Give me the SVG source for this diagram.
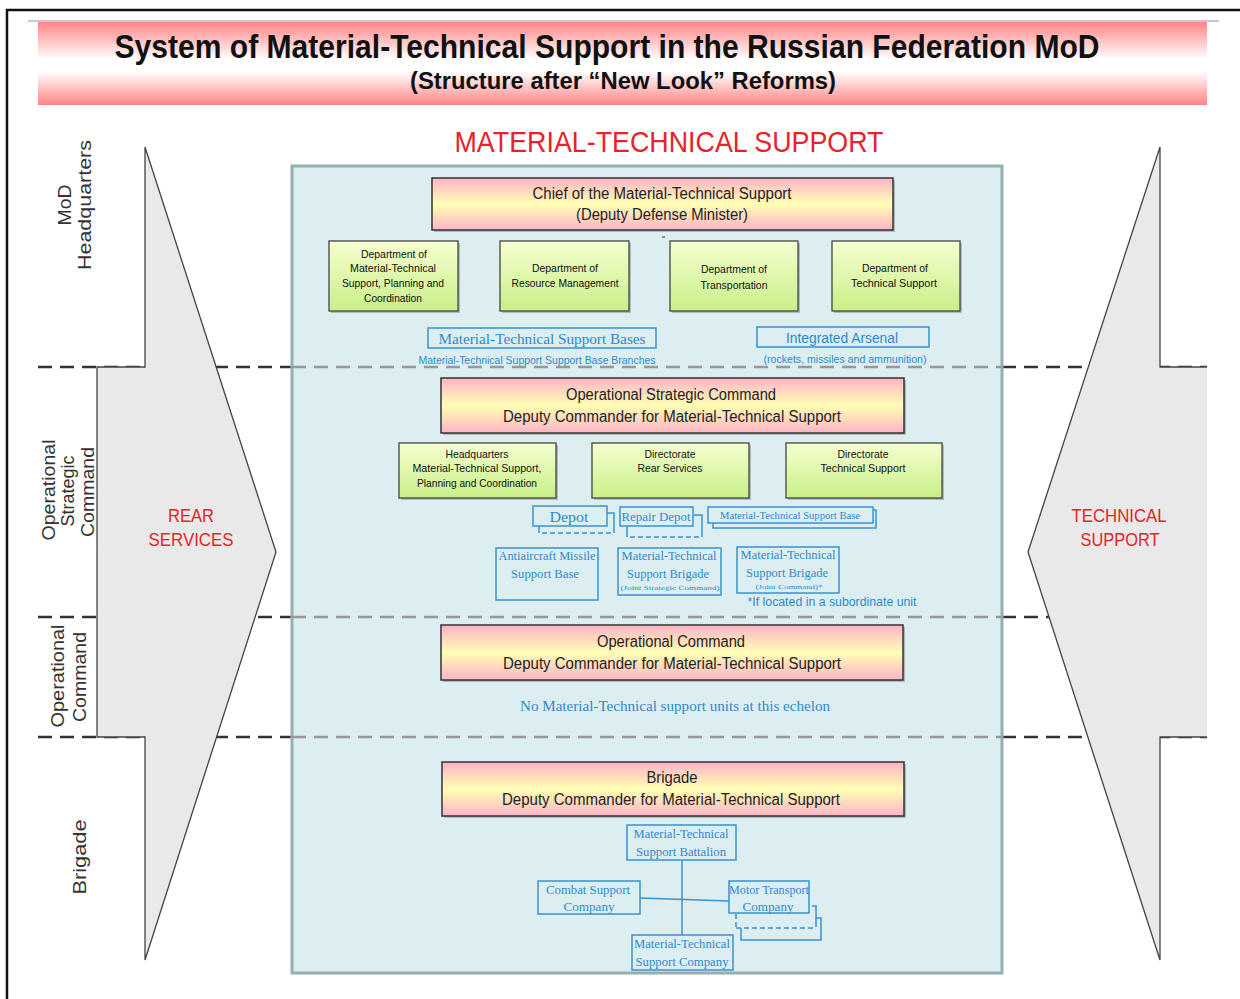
<svg xmlns="http://www.w3.org/2000/svg" width="1240" height="999" viewBox="0 0 1240 999">
<defs>
<linearGradient id="gTitle" x1="0" y1="0" x2="0" y2="1">
<stop offset="0" stop-color="#ff8585"/><stop offset="0.45" stop-color="#ffffff"/><stop offset="0.6" stop-color="#ffffff"/><stop offset="1" stop-color="#ff8383"/>
</linearGradient>
<linearGradient id="gPink" x1="0" y1="0" x2="0" y2="1">
<stop offset="0" stop-color="#ffb3c8"/><stop offset="0.5" stop-color="#ffffb4"/><stop offset="1" stop-color="#ffb3c8"/>
</linearGradient>
<linearGradient id="gGreen" x1="0" y1="0" x2="0" y2="1">
<stop offset="0" stop-color="#f6ffd0"/><stop offset="1" stop-color="#c8ef88"/>
</linearGradient>
<style>
.frame{fill:none;stroke:#111;stroke-width:2.5}
.dashO{stroke:#333;stroke-width:2.5;stroke-dasharray:14 8;fill:none}
.dashI{stroke:#999;stroke-width:2.5;stroke-dasharray:14 8;fill:none}
.arrow{fill:#e9e9e9;stroke:none}
.arrowS{fill:none;stroke:#444;stroke-width:1.3}
.panel{fill:#ddeef1;stroke:#94b0b3;stroke-width:3}
.pink{fill:url(#gPink);stroke:#333;stroke-width:1.5}
.green{fill:url(#gGreen);stroke:#444;stroke-width:1.3}
.shadow{fill:#777;opacity:0.45}
.bbox{fill:#ddeef1;stroke:#3a93d4;stroke-width:1.5}
.bline{fill:none;stroke:#3a93d4;stroke-width:1.5}
.bdash{fill:none;stroke:#3a93d4;stroke-width:1.5;stroke-dasharray:5 3}
.conn{fill:none;stroke:#3a93d4;stroke-width:1.5}
.title{font-family:"Liberation Sans Narrow","Liberation Sans",Arial,sans-serif;font-weight:bold;fill:#111;text-anchor:middle}
.red{font-family:"Liberation Sans",Arial,sans-serif;fill:#e8222a;text-anchor:middle}
.side{font-family:"Liberation Sans",Arial,sans-serif;fill:#333;font-size:18px;text-anchor:middle}
.bt{font-family:"Liberation Sans Narrow","Liberation Sans",Arial,sans-serif;fill:#222;font-size:16px;text-anchor:middle}
.gt{font-family:"Liberation Sans Narrow","Liberation Sans",Arial,sans-serif;fill:#111;font-size:11px;text-anchor:middle}
.st{font-family:"Liberation Serif","Times New Roman",serif;fill:#2d8ad0;text-anchor:middle}
.ss{font-family:"Liberation Sans",Arial,sans-serif;fill:#2d8ad0;text-anchor:middle}
</style>
</defs>
<rect width="1240" height="999" fill="#ffffff"/>
<rect class="frame" x="7" y="10" width="1245" height="1000"/>

<g id="title">
<line x1="28" y1="21" x2="1219" y2="21" stroke="#c8c8c8" stroke-width="2"/>
<rect x="38" y="22" width="1169" height="83" fill="url(#gTitle)"/>
<text class="title" x="607" y="58" font-size="34" textLength="985" lengthAdjust="spacingAndGlyphs">System of Material-Technical Support in the Russian Federation MoD</text>
<text class="title" x="623" y="89" font-size="24" textLength="426" lengthAdjust="spacingAndGlyphs">(Structure after “New Look” Reforms)</text>
</g>

<g id="levels">
<line class="dashO" x1="38" y1="367" x2="292" y2="367"/>
<line class="dashO" x1="1002" y1="367" x2="1207" y2="367"/>
<line class="dashO" x1="38" y1="617" x2="292" y2="617"/>
<line class="dashO" x1="1002" y1="617" x2="1207" y2="617"/>
<line class="dashO" x1="38" y1="737" x2="292" y2="737"/>
<line class="dashO" x1="1002" y1="737" x2="1207" y2="737"/>
</g>

<g id="arrow-rear">
<polygon class="arrow" points="145,147 276,552 145,960 145,737 97,737 97,367 145,367"/>
<polygon class="arrowS" points="145,147 276,552 145,960 145,737 97,737 97,367 145,367"/>
<text class="red" x="191" y="522" font-size="19" textLength="46" lengthAdjust="spacingAndGlyphs">REAR</text>
<text class="red" x="191" y="546" font-size="19" textLength="85" lengthAdjust="spacingAndGlyphs">SERVICES</text>
</g>
<g id="arrow-tech">
<polygon class="arrow" points="1160,147 1028,552 1160,960 1160,737 1207,737 1207,367 1160,367"/>
<polyline class="arrowS" points="1207,737 1160,737 1160,960 1028,552 1160,147 1160,367 1207,367"/>
<text class="red" x="1119" y="522" font-size="19" textLength="95" lengthAdjust="spacingAndGlyphs">TECHNICAL</text>
<text class="red" x="1120" y="546" font-size="19" textLength="79" lengthAdjust="spacingAndGlyphs">SUPPORT</text>
</g>

<g id="side-labels">
<text class="side" transform="translate(71,205) rotate(-90)" textLength="41" lengthAdjust="spacingAndGlyphs">MoD</text>
<text class="side" transform="translate(91,205) rotate(-90)" textLength="130" lengthAdjust="spacingAndGlyphs">Headquarters</text>
<text class="side" transform="translate(55,490) rotate(-90)" textLength="101" lengthAdjust="spacingAndGlyphs">Operational</text>
<text class="side" transform="translate(74,491) rotate(-90)" textLength="71" lengthAdjust="spacingAndGlyphs">Strategic</text>
<text class="side" transform="translate(94,492) rotate(-90)" textLength="90" lengthAdjust="spacingAndGlyphs">Command</text>
<text class="side" transform="translate(64,676) rotate(-90)" textLength="103" lengthAdjust="spacingAndGlyphs">Operational</text>
<text class="side" transform="translate(86,677) rotate(-90)" textLength="90" lengthAdjust="spacingAndGlyphs">Command</text>
<text class="side" transform="translate(86,857) rotate(-90)" textLength="75" lengthAdjust="spacingAndGlyphs">Brigade</text>
</g>

<text id="mts-title" class="red" x="669" y="152" font-size="30" textLength="429" lengthAdjust="spacingAndGlyphs">MATERIAL-TECHNICAL SUPPORT</text>

<g id="panel">
<rect class="panel" x="292" y="166" width="710" height="807"/>
<line class="dashI" x1="292" y1="367" x2="1002" y2="367"/>
<line class="dashI" x1="292" y1="617" x2="1002" y2="617"/>
<line class="dashI" x1="292" y1="737" x2="1002" y2="737"/>
</g>

<g id="connectors">
<line class="conn" x1="682" y1="860" x2="682" y2="935"/>
<line class="conn" x1="640" y1="898" x2="729" y2="901"/>
</g>

<g id="chief">
<rect class="shadow" x="434" y="180" width="461" height="52"/>
<rect class="pink" x="432" y="178" width="461" height="52"/>
<text class="bt" x="662" y="199" textLength="259" lengthAdjust="spacingAndGlyphs">Chief of the Material-Technical  Support</text>
<text class="bt" x="662" y="220" textLength="172" lengthAdjust="spacingAndGlyphs">(Deputy Defense Minister)</text>
<line x1="662" y1="237" x2="665" y2="237" stroke="#333" stroke-width="1"/>
</g>

<g id="dept-planning">
<rect class="shadow" x="331" y="243" width="129" height="70"/>
<rect class="green" x="329" y="241" width="129" height="70"/>
<text class="gt" x="394" y="258" textLength="66" lengthAdjust="spacingAndGlyphs">Department of</text>
<text class="gt" x="393" y="272" textLength="86" lengthAdjust="spacingAndGlyphs">Material-Technical</text>
<text class="gt" x="393" y="287" textLength="102" lengthAdjust="spacingAndGlyphs">Support, Planning and</text>
<text class="gt" x="393" y="302" textLength="58" lengthAdjust="spacingAndGlyphs">Coordination</text>
</g>
<g id="dept-resource">
<rect class="shadow" x="502" y="243" width="129" height="70"/>
<rect class="green" x="500" y="241" width="129" height="70"/>
<text class="gt" x="565" y="272" textLength="66" lengthAdjust="spacingAndGlyphs">Department of</text>
<text class="gt" x="565" y="287" textLength="107" lengthAdjust="spacingAndGlyphs">Resource Management</text>
</g>
<g id="dept-transport">
<rect class="shadow" x="672" y="243" width="128" height="70"/>
<rect class="green" x="670" y="241" width="128" height="70"/>
<text class="gt" x="734" y="273" textLength="66" lengthAdjust="spacingAndGlyphs">Department of</text>
<text class="gt" x="734" y="289" textLength="67" lengthAdjust="spacingAndGlyphs">Transportation</text>
</g>
<g id="dept-technical">
<rect class="shadow" x="834" y="243" width="128" height="70"/>
<rect class="green" x="832" y="241" width="128" height="70"/>
<text class="gt" x="895" y="272" textLength="66" lengthAdjust="spacingAndGlyphs">Department of</text>
<text class="gt" x="894" y="287" textLength="86" lengthAdjust="spacingAndGlyphs">Technical  Support</text>
</g>

<g id="mts-bases">
<rect class="bbox" x="428" y="328" width="228" height="20"/>
<text class="st" x="542" y="344" font-size="15" textLength="207" lengthAdjust="spacingAndGlyphs">Material-Technical Support Bases</text>
<text class="ss" x="537" y="364" font-size="11" textLength="237" lengthAdjust="spacingAndGlyphs">Material-Technical  Support  Support  Base  Branches</text>
</g>
<g id="arsenal">
<rect class="bbox" x="757" y="327" width="172" height="20"/>
<text class="ss" x="842" y="343" font-size="14" textLength="112" lengthAdjust="spacingAndGlyphs">Integrated Arsenal</text>
<text class="ss" x="845" y="363" font-size="11" textLength="163" lengthAdjust="spacingAndGlyphs">(rockets, missiles and ammunition)</text>
</g>

<g id="osc">
<rect class="shadow" x="443" y="380" width="463" height="55"/>
<rect class="pink" x="441" y="378" width="463" height="55"/>
<text class="bt" x="671" y="400" textLength="210" lengthAdjust="spacingAndGlyphs">Operational Strategic Command</text>
<text class="bt" x="672" y="422" textLength="338" lengthAdjust="spacingAndGlyphs">Deputy Commander for Material-Technical  Support</text>
</g>
<g id="osc-hq">
<rect class="shadow" x="401" y="445" width="157" height="55"/>
<rect class="green" x="399" y="443" width="157" height="55"/>
<text class="gt" x="477" y="458" textLength="63" lengthAdjust="spacingAndGlyphs">Headquarters</text>
<text class="gt" x="477" y="472" textLength="129" lengthAdjust="spacingAndGlyphs">Material-Technical  Support,</text>
<text class="gt" x="477" y="487" textLength="120" lengthAdjust="spacingAndGlyphs">Planning and  Coordination</text>
</g>
<g id="osc-rear">
<rect class="shadow" x="594" y="445" width="157" height="55"/>
<rect class="green" x="592" y="443" width="157" height="55"/>
<text class="gt" x="670" y="458" textLength="51" lengthAdjust="spacingAndGlyphs">Directorate</text>
<text class="gt" x="670" y="472" textLength="65" lengthAdjust="spacingAndGlyphs">Rear Services</text>
</g>
<g id="osc-tech">
<rect class="shadow" x="788" y="445" width="156" height="55"/>
<rect class="green" x="786" y="443" width="156" height="55"/>
<text class="gt" x="863" y="458" textLength="51" lengthAdjust="spacingAndGlyphs">Directorate</text>
<text class="gt" x="863" y="472" textLength="85" lengthAdjust="spacingAndGlyphs">Technical  Support</text>
</g>

<g id="depot">
<path class="bline" d="M607,513 H614 V533 M539,526 V533"/>
<line class="bdash" x1="542" y1="533" x2="612" y2="533"/>
<rect class="bbox" x="533" y="506" width="74" height="20"/>
<text class="st" x="569" y="522" font-size="15" textLength="39" lengthAdjust="spacingAndGlyphs">Depot</text>
</g>
<g id="repair-depot">
<path class="bline" d="M694,515 H702 V537 M627,526 V537"/>
<line class="bdash" x1="630" y1="537" x2="700" y2="537"/>
<rect class="bbox" x="620" y="507" width="73" height="19"/>
<text class="st" x="656" y="521" font-size="13" textLength="69" lengthAdjust="spacingAndGlyphs">Repair Depot</text>
</g>
<g id="mts-base">
<rect class="bbox" x="713" y="510" width="163" height="18"/>
<rect class="bbox" x="708" y="507" width="165" height="16"/>
<text class="st" x="790" y="519" font-size="10" textLength="140" lengthAdjust="spacingAndGlyphs">Material-Technical Support Base</text>
</g>
<g id="aa-base">
<rect class="bbox" x="496" y="548" width="102" height="52"/>
<text class="st" x="547" y="560" font-size="12" textLength="97" lengthAdjust="spacingAndGlyphs">Antiaircraft Missile</text>
<text class="st" x="545" y="578" font-size="12" textLength="68" lengthAdjust="spacingAndGlyphs">Support Base</text>
</g>
<g id="mts-brigade-jsc">
<rect class="bbox" x="618" y="548" width="103" height="47"/>
<text class="st" x="669" y="560" font-size="12" textLength="95" lengthAdjust="spacingAndGlyphs">Material-Technical</text>
<text class="st" x="668" y="578" font-size="12" textLength="82" lengthAdjust="spacingAndGlyphs">Support Brigade</text>
<text class="st" x="670" y="590" font-size="7" textLength="99" lengthAdjust="spacingAndGlyphs">(Joint Strategic Command)</text>
</g>
<g id="mts-brigade-jc">
<rect class="bbox" x="737" y="547" width="102" height="46"/>
<text class="st" x="788" y="559" font-size="12" textLength="95" lengthAdjust="spacingAndGlyphs">Material-Technical</text>
<text class="st" x="787" y="577" font-size="12" textLength="82" lengthAdjust="spacingAndGlyphs">Support Brigade</text>
<text class="st" x="789" y="589" font-size="7" textLength="67" lengthAdjust="spacingAndGlyphs">(Joint Command)*</text>
</g>
<text id="footnote" class="ss" x="832" y="606" font-size="12" textLength="169" lengthAdjust="spacingAndGlyphs">*If located in a subordinate unit</text>

<g id="oc">
<rect class="shadow" x="443" y="627" width="462" height="55"/>
<rect class="pink" x="441" y="625" width="462" height="55"/>
<text class="bt" x="671" y="647" textLength="148" lengthAdjust="spacingAndGlyphs">Operational Command</text>
<text class="bt" x="672" y="669" textLength="338" lengthAdjust="spacingAndGlyphs">Deputy Commander for Material-Technical  Support</text>
</g>
<text id="oc-note" class="st" x="675" y="711" font-size="14" textLength="310" lengthAdjust="spacingAndGlyphs">No Material-Technical support units at this echelon</text>

<g id="brigade">
<rect class="shadow" x="444" y="764" width="462" height="54"/>
<rect class="pink" x="442" y="762" width="462" height="54"/>
<text class="bt" x="672" y="783" textLength="51" lengthAdjust="spacingAndGlyphs">Brigade</text>
<text class="bt" x="671" y="805" textLength="338" lengthAdjust="spacingAndGlyphs">Deputy Commander for Material-Technical  Support</text>
</g>
<g id="battalion">
<rect class="bbox" x="627" y="825" width="109" height="35"/>
<text class="st" x="681" y="838" font-size="12" textLength="95" lengthAdjust="spacingAndGlyphs">Material-Technical</text>
<text class="st" x="681" y="856" font-size="12" textLength="90" lengthAdjust="spacingAndGlyphs">Support Battalion</text>
</g>
<g id="combat-company">
<rect class="bbox" x="538" y="881" width="102" height="33"/>
<text class="st" x="588" y="894" font-size="12" textLength="84" lengthAdjust="spacingAndGlyphs">Combat Support</text>
<text class="st" x="589" y="911" font-size="12" textLength="51" lengthAdjust="spacingAndGlyphs">Company</text>
</g>
<g id="motor-company">
<path class="bline" d="M816,918 H821 V940 H741 V928"/>
<path class="bline" d="M812,906 H816 V927"/>
<line class="bdash" x1="736" y1="928" x2="816" y2="928"/>
<line class="bdash" x1="736" y1="914" x2="736" y2="928"/>
<rect class="bbox" x="729" y="881" width="80" height="32"/>
<text class="st" x="769" y="894" font-size="12" textLength="80" lengthAdjust="spacingAndGlyphs">Motor Transport</text>
<text class="st" x="768" y="911" font-size="12" textLength="51" lengthAdjust="spacingAndGlyphs">Company</text>
</g>
<g id="mts-company">
<rect class="bbox" x="632" y="935" width="101" height="35"/>
<text class="st" x="682" y="948" font-size="12" textLength="96" lengthAdjust="spacingAndGlyphs">Material-Technical</text>
<text class="st" x="682" y="966" font-size="12" textLength="93" lengthAdjust="spacingAndGlyphs">Support Company</text>
</g>
</svg>
